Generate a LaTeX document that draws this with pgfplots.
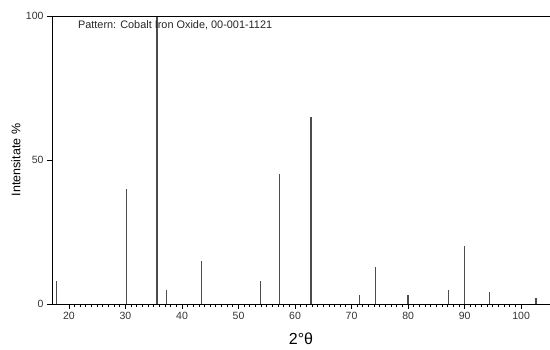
\documentclass[border=0pt]{standalone}
\usepackage{fontspec}
\setmainfont{Liberation Sans}
\usepackage{pgfplots}
\pgfplotsset{compat=1.18}
\begin{document}
\begin{tikzpicture}[x=1pt,y=1pt]
\path[use as bounding box] (-52,-46) rectangle (498,304);
\begin{axis}[
  at={(0,0)}, anchor=south west,
  scale only axis, width=498pt, height=288pt,
  xmin=17, xmax=105.1, ymin=0, ymax=100,
  axis x line*=bottom, axis y line*=left,
  axis line style={black, line width=0.9pt, -},
  xtick={20,30,...,100}, ytick={0,50,100},
  minor x tick num=9,
  tick align=outside,
  major tick length=5pt, minor tick length=3pt,
  tick style={black, line width=0.9pt},
  /pgf/number format/assume math mode=true,
  ticklabel style={font=\fontsize{10.5}{12}\selectfont, text=black!80},
  xlabel={2°θ}, ylabel={Intensitate \%},
  xlabel style={font=\fontsize{16}{18}\selectfont, at={(rel axis cs:0.5,0)}, anchor=north, yshift=-25pt},
  ylabel style={font=\fontsize{12.5}{14}\selectfont, at={(rel axis cs:0,0.5)}, anchor=south, yshift=28pt},
  clip=false,
]
\addplot[ycomb, draw=black!70, line width=1.3pt, no markers] coordinates {
(17.8,8) (30.2,40) (35.6,100) (37.2,5) (43.4,15) (53.9,8) (57.2,45) (62.8,65)
(71.4,3) (74.2,13) (80.0,3) (87.2,5) (90.0,20) (94.4,4) (102.6,2)
};
\draw[black, line width=0.9pt] (rel axis cs:0,1) -- (rel axis cs:1,1);
\node[anchor=north west, inner sep=0pt, font=\fontsize{10.9}{12}\selectfont, text=black!85] at (rel axis cs:0.052,0.985) {Pattern: Cobalt Iron Oxide, 00-001-1121};
\end{axis}
\end{tikzpicture}
\end{document}
